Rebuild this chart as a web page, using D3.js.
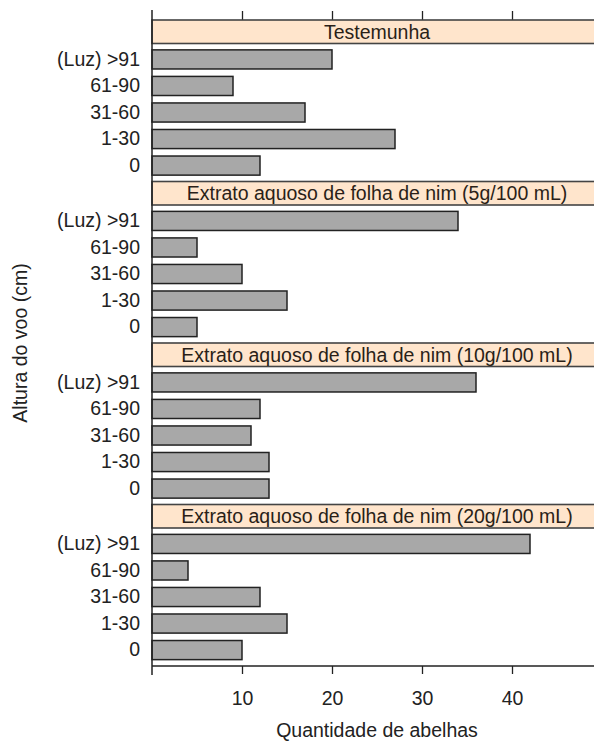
<!DOCTYPE html>
<html><head><meta charset="utf-8">
<script src="https://cdn.jsdelivr.net/npm/d3@7"></script>
<style>body{margin:0;background:#fff}svg{display:block}text{font-family:"Liberation Sans",Arial,sans-serif}</style>
</head><body>
<svg id="chart" width="594" height="742"></svg>
<script>
const categories = ["(Luz) >91", "61-90", "31-60", "1-30", "0"];
const panels = [
  "Testemunha",
  "Extrato aquoso de folha de nim (5g/100 mL)",
  "Extrato aquoso de folha de nim (10g/100 mL)",
  "Extrato aquoso de folha de nim (20g/100 mL)"
];
const testemunha = [20, 9, 17, 27, 12];
const nim5 = [34, 5, 10, 15, 5];
const nim10 = [36, 12, 11, 13, 13];
const nim20 = [42, 4, 12, 15, 10];
const xTicks = [10, 20, 30, 40];
const seriesList = [testemunha, nim5, nim10, nim20];

const svg = d3.select("#chart");
const x = d3.scaleLinear().domain([0, 50]).range([152, 602]);
const plotTop = 20, plotBottom = 666, stripH = 23.5;
const panelScale = d3.scaleBand().domain(panels).range([plotTop, plotBottom]).padding(0);
const panelH = panelScale.bandwidth();
const font = "19.5px";

// top axis ticks
const gTop = svg.append("g").attr("transform", `translate(0,${plotTop})`)
  .call(d3.axisTop(x).tickValues(xTicks).tickSize(9).tickFormat(""));
gTop.select(".domain").remove();
gTop.selectAll("line").attr("stroke", "#222").attr("stroke-width", 1.3);

// bottom axis
const gBot = svg.append("g").attr("transform", `translate(0,${plotBottom})`)
  .call(d3.axisBottom(x).tickValues(xTicks).tickSize(8).tickPadding(17));
gBot.select(".domain").remove();
gBot.selectAll("line").attr("stroke", "#222").attr("stroke-width", 1.3);
gBot.selectAll("text").attr("font-size", font).attr("fill", "#222")
  .attr("font-family", "Liberation Sans, Arial, sans-serif");

panels.forEach((p, i) => {
  const p0 = panelScale(p);
  const dataTop = p0 + stripH, dataBot = p0 + panelH;
  // strip
  svg.append("rect").attr("x", x(0)).attr("y", p0).attr("width", 600 - x(0)).attr("height", stripH)
    .attr("fill", "#ffe5cc").attr("stroke", "#444").attr("stroke-width", 1.6);
  svg.append("text").attr("x", x.range()[0] + (x.range()[1] - x.range()[0]) / 2).attr("y", p0 + stripH / 2 + 7)
    .attr("text-anchor", "middle").attr("font-size", font).attr("fill", "#2a1f18").text(p);
  const y = d3.scaleBand().domain(categories).range([dataTop, dataBot]).paddingInner(0.28).paddingOuter(0.24);
  const vals = seriesList[i];
  svg.append("g").selectAll("rect").data(categories).join("rect")
    .attr("x", x(0)).attr("y", d => y(d)).attr("width", (d, j) => x(vals[j]) - x(0))
    .attr("height", y.bandwidth()).attr("fill", "#a8a8a8").attr("stroke", "#222").attr("stroke-width", 1.5);
  const ga = svg.append("g").attr("transform", `translate(${x(0)},0)`)
    .call(d3.axisLeft(y).tickSize(0).tickPadding(12));
  ga.select(".domain").remove();
  ga.selectAll("text").attr("font-size", font).attr("fill", "#222")
    .attr("font-family", "Liberation Sans, Arial, sans-serif");
});

// bottom border
svg.append("line").attr("x1", x(0)).attr("x2", 600).attr("y1", plotBottom).attr("y2", plotBottom)
  .attr("stroke", "#222").attr("stroke-width", 1.5);
// left line
svg.append("line").attr("x1", x(0)).attr("x2", x(0)).attr("y1", 10).attr("y2", 675)
  .attr("stroke", "#222").attr("stroke-width", 1.5);

// axis titles
svg.append("text").attr("x", (x.range()[0] + x.range()[1]) / 2).attr("y", 737)
  .attr("text-anchor", "middle").attr("font-size", font).attr("fill", "#222").text("Quantidade de abelhas");
svg.append("text").attr("transform", `translate(27,${(plotTop + plotBottom) / 2}) rotate(-90)`)
  .attr("text-anchor", "middle").attr("font-size", font).attr("fill", "#222").text("Altura do voo (cm)");
</script>
</body></html>
